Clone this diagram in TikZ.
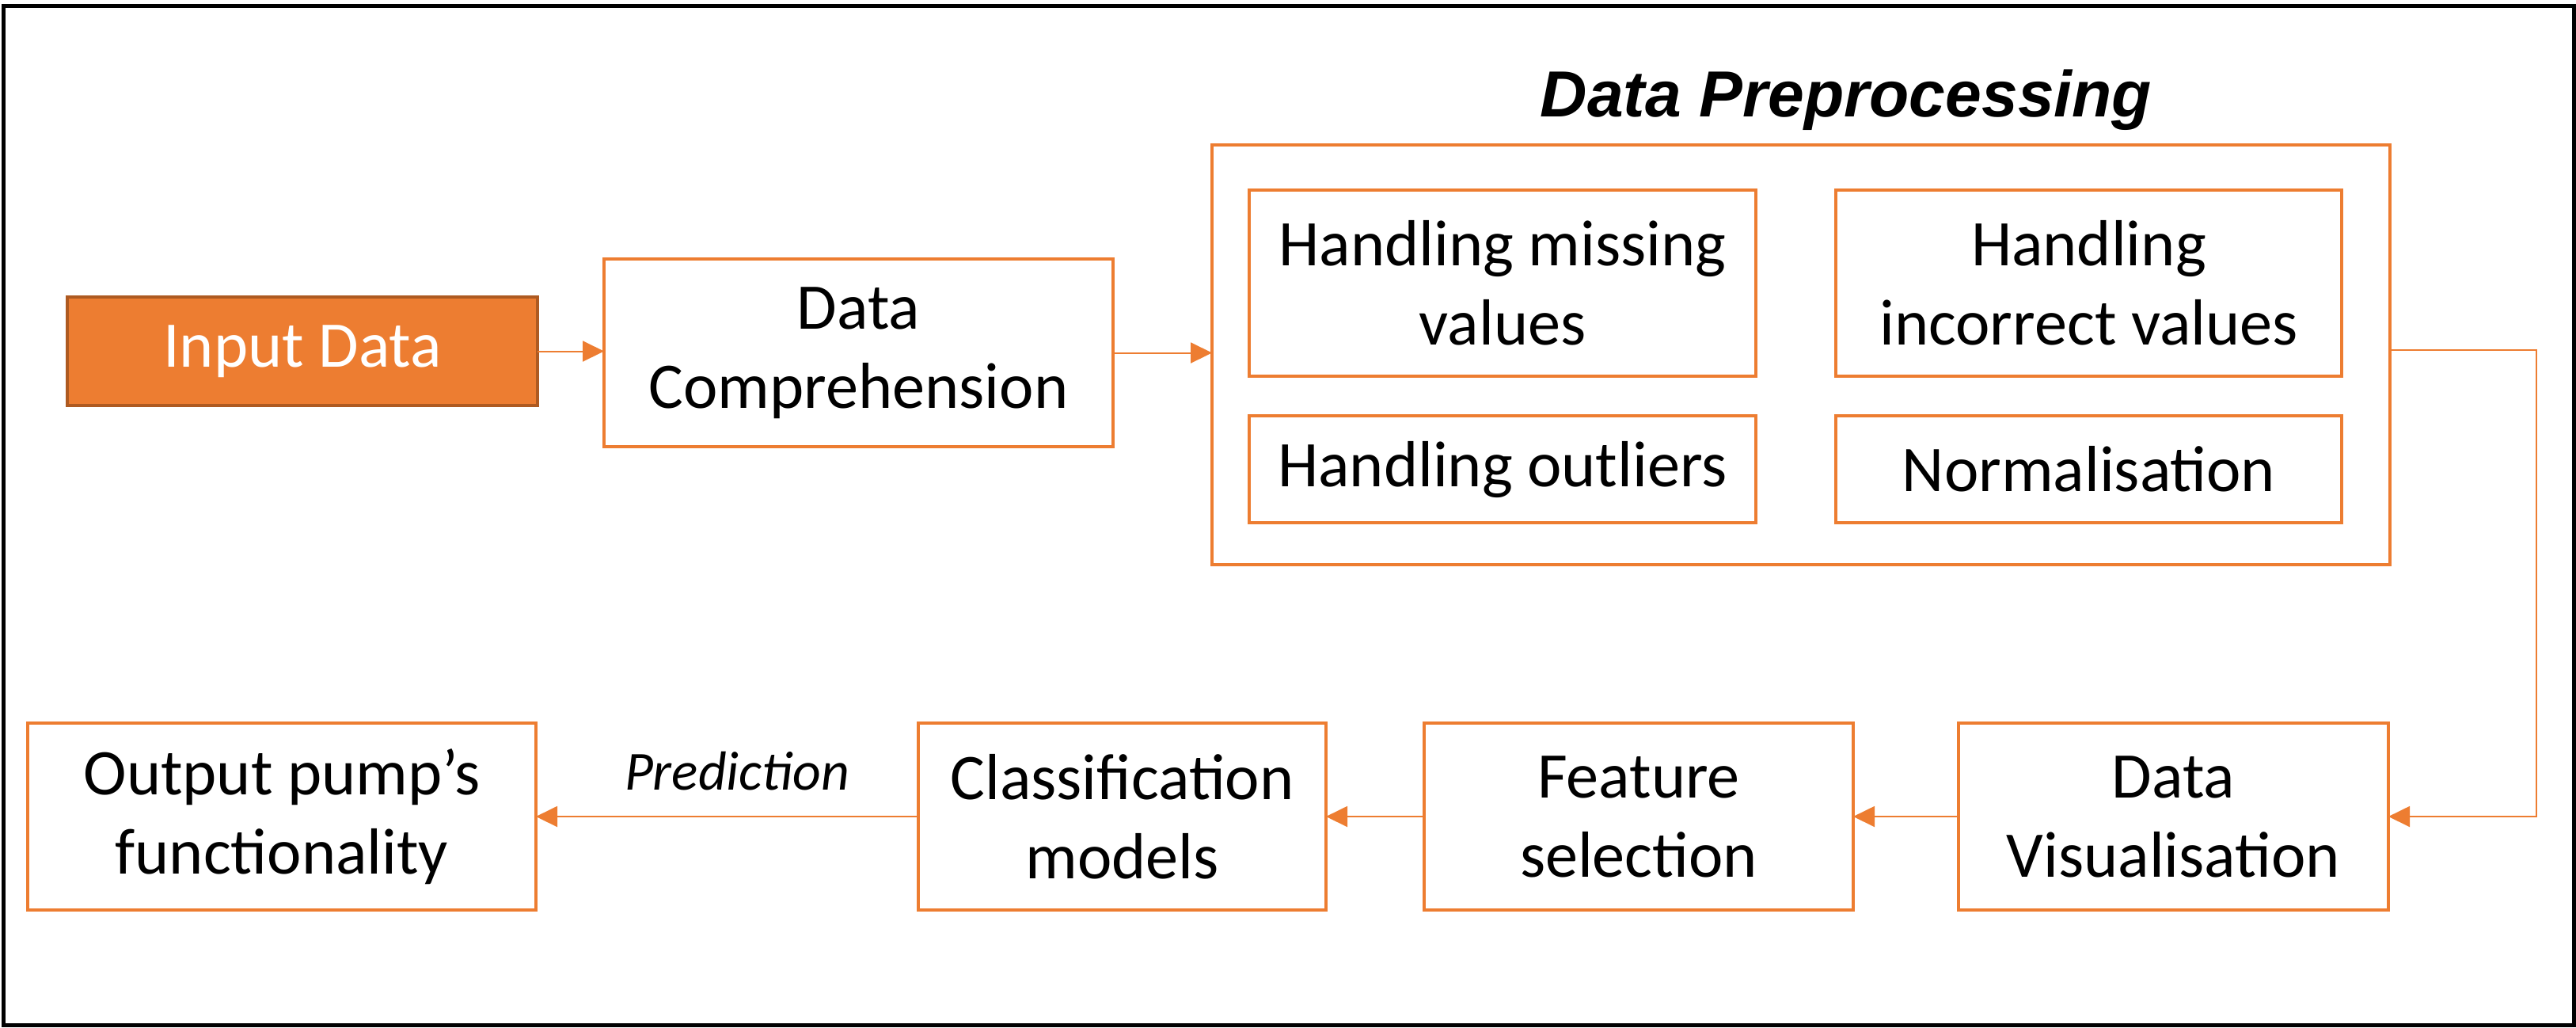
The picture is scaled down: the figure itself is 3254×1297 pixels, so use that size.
\documentclass[tikz,border=0pt]{standalone}
\usepackage{fontspec}
\setmainfont{Carlito}
\newfontfamily\arialfont{Liberation Sans}
\usetikzlibrary{arrows.meta}
\definecolor{orng}{HTML}{ED7D31}
\definecolor{orngdark}{HTML}{AE5A21}
\begin{document}
\begin{tikzpicture}[x=0.1mm,y=-0.1mm,
  box/.style={draw=orng, line width=0.4mm, fill=white, align=center, inner sep=0pt, outer sep=0pt,
    font=\fontsize{23.4}{28.4}\selectfont},
  inbox/.style={box, draw=orngdark, fill=orng, text=white},
  link/.style={draw=orng, line width=0.2mm, -{Triangle[length=2.7mm,width=2.6mm]}},
]
\useasboundingbox (0,0) rectangle (3254,1297);
\draw[line width=0.5mm] (4.5,7.5) rectangle (3251.5,1294.5);

% top row
\node[inbox, minimum width=59.4mm, minimum height=13.7mm] (input) at (382,443.5) {Input Data};
\node[box, minimum width=64.3mm, minimum height=23.7mm] (comp) at (1084.5,445.5) {\raisebox{-0.6mm}{\parbox{60mm}{\centering Data\\Comprehension}}};
\node[box, minimum width=148.8mm, minimum height=53mm] (pre) at (2275,448) {};
\node[font=\arialfont\bfseries\itshape\fontsize{23.4}{28}\selectfont, anchor=base] (title) at (2332,147) {Data Preprocessing};
\node[box, minimum width=64mm, minimum height=23.5mm] (miss) at (1898,357.5) {Handling missing\\values};
\node[box, minimum width=63.9mm, minimum height=23.5mm] (inc) at (2638.5,357.5) {Handling\\incorrect values};
\node[box, minimum width=64mm, minimum height=13.5mm] (outl) at (1898,592.5) {Handling outliers};
\node[box, minimum width=63.9mm, minimum height=13.5mm] (norm) at (2638.5,592.5) {Normalisation};

% bottom row
\node[box, minimum width=64.2mm, minimum height=23.6mm] (outp) at (356,1031) {Output pump’s\\functionality};
\node[box, minimum width=51.5mm, minimum height=23.6mm] (cls) at (1417.5,1031) {Classification\\models};
\node[box, minimum width=54.2mm, minimum height=23.6mm] (feat) at (2070,1031) {Feature\\selection};
\node[box, minimum width=54.3mm, minimum height=23.6mm] (vis) at (2745.5,1031) {Data\\Visualisation};
\node[font=\itshape\fontsize{19.8}{24}\selectfont, anchor=base] (pred) at (931,997) {Prediction};

% connectors
\coordinate (c1) at (3204,442);
\draw[link] (input.east) -- (input.east -| comp.west);
\draw[link] (comp.east) -- (comp.east -| pre.west);
\draw[link] (pre.east |- c1) -- (c1) |- (vis.east);
\draw[link] (vis.west) -- (feat.east);
\draw[link] (feat.west) -- (cls.east);
\draw[link] (cls.west) -- (outp.east);
\end{tikzpicture}
\end{document}
